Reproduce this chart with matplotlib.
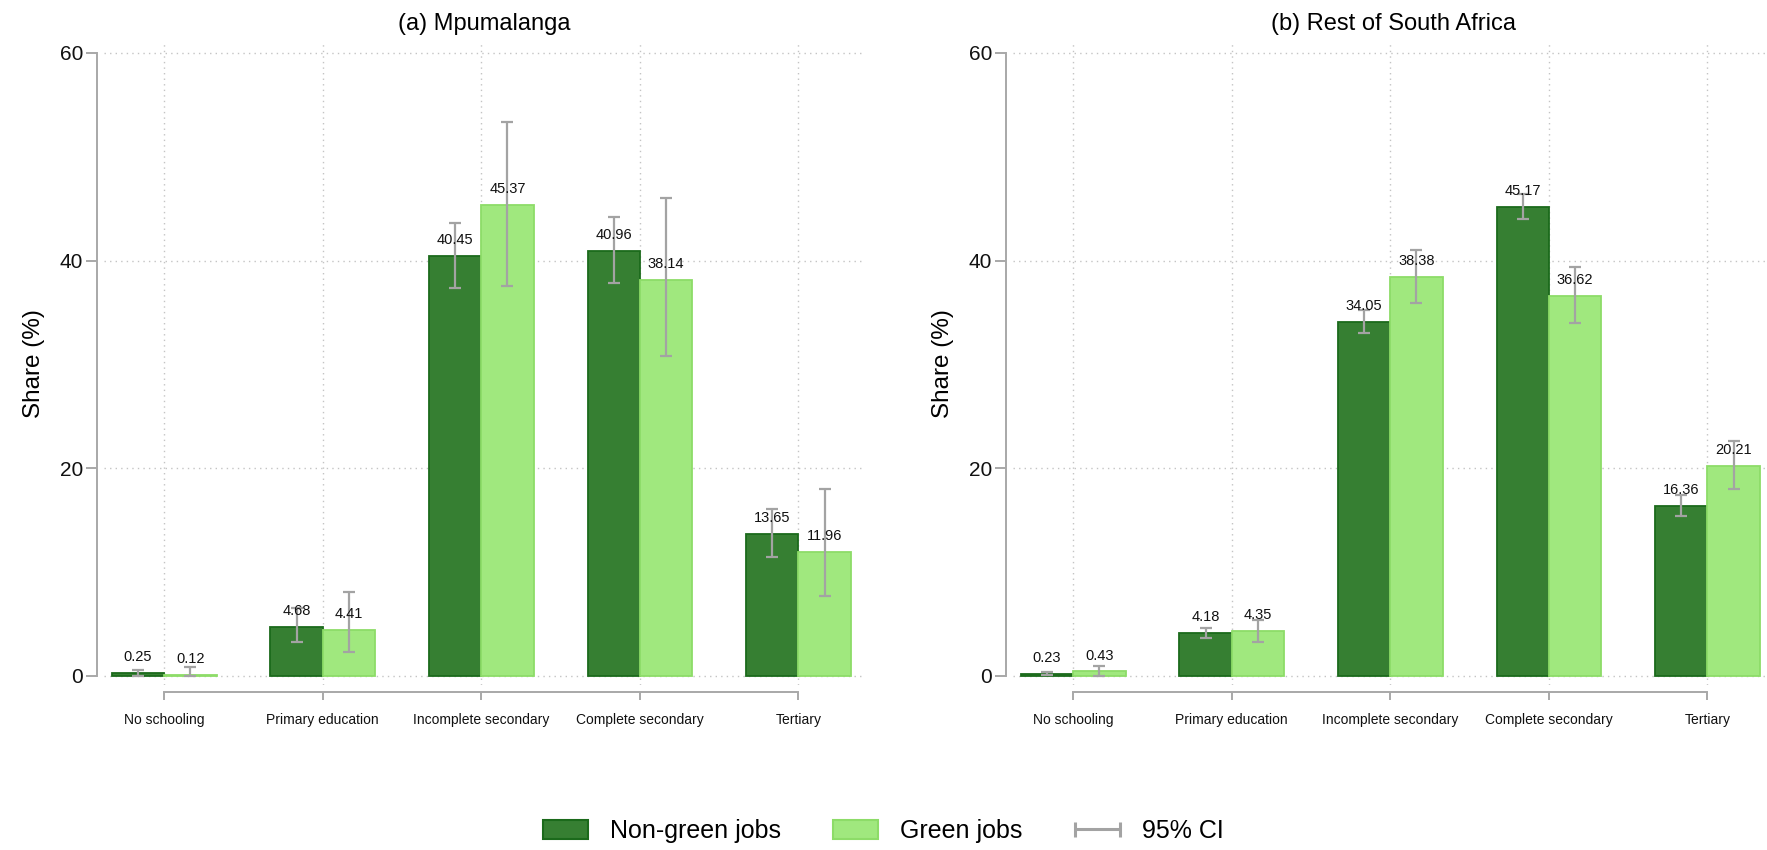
import matplotlib
matplotlib.use("Agg")
import matplotlib.pyplot as plt
import numpy as np
from matplotlib.lines import Line2D
from matplotlib.patches import Patch
from matplotlib.legend_handler import HandlerBase

plt.rcParams["font.family"] = ["Liberation Sans", "DejaVu Sans"]

categories = ["No schooling", "Primary education", "Incomplete secondary",
              "Complete secondary", "Tertiary"]

# Mpumalanga
mp_nongreen = [0.25, 4.68, 40.45, 40.96, 13.65]
mp_nongreen_lo = [0.0, 3.3, 37.4, 37.8, 11.5]
mp_nongreen_hi = [0.58, 6.5, 43.6, 44.2, 16.1]
mp_green = [0.12, 4.41, 45.37, 38.14, 11.96]
mp_green_lo = [0.0, 2.3, 37.6, 30.8, 7.7]
mp_green_hi = [0.9, 8.1, 53.4, 46.0, 18.0]

# Rest of South Africa
rsa_nongreen = [0.23, 4.18, 34.05, 45.17, 16.36]
rsa_nongreen_lo = [0.1, 3.7, 33.0, 44.0, 15.4]
rsa_nongreen_hi = [0.37, 4.6, 35.2, 46.4, 17.4]
rsa_green = [0.43, 4.35, 38.38, 36.62, 20.21]
rsa_green_lo = [0.0, 3.3, 35.9, 34.0, 18.0]
rsa_green_hi = [0.93, 5.4, 41.0, 39.4, 22.6]

panel_titles = ["(a) Mpumalanga", "(b) Rest of South Africa"]
y_ticks = [0, 20, 40, 60]

DARK = "#367f32"
DARK_EDGE = "#1b6a1b"
LIGHT = "#a0e87e"
LIGHT_EDGE = "#8ddc68"
CI_COLOR = "#a3a3a3"
AXIS_COLOR = "#a8a8a8"
GRID_COLOR = "#c4c4c4"

W, H = 1767, 850
fig = plt.figure(figsize=(W / 100, H / 100), dpi=100)

ax_w = 761 / W
ax_b = (H - 685.3) / H
ax_h = 642.7 / H
axes = [fig.add_axes([104 / W, ax_b, ax_w, ax_h]),
        fig.add_axes([1013 / W, ax_b, ax_w, ax_h])]

panels = [
    (mp_nongreen, mp_nongreen_lo, mp_nongreen_hi, mp_green, mp_green_lo, mp_green_hi),
    (rsa_nongreen, rsa_nongreen_lo, rsa_nongreen_hi, rsa_green, rsa_green_lo, rsa_green_hi),
]

x = np.arange(len(categories))
bw = 0.33

for ax, title, (ng, ng_lo, ng_hi, g, g_lo, g_hi) in zip(axes, panel_titles, panels):
    for offs, vals, lo, hi, fc, ec in [(-bw / 2, ng, ng_lo, ng_hi, DARK, DARK_EDGE),
                                       (bw / 2, g, g_lo, g_hi, LIGHT, LIGHT_EDGE)]:
        vals = np.array(vals)
        xs = x + offs
        ax.bar(xs, vals, width=bw, color=fc, edgecolor=ec, linewidth=1.3, zorder=2)
        yerr = np.vstack([vals - np.array(lo), np.array(hi) - vals])
        ax.errorbar(xs, vals, yerr=yerr, fmt="none", ecolor=CI_COLOR, elinewidth=1.6,
                    capsize=4, capthick=1.6, zorder=3)
        for xi, v in zip(xs, vals):
            ax.annotate(f"{v:.2f}", (xi, v), xytext=(0, 11.5), textcoords="offset points",
                        ha="center", va="center", fontsize=10.5, color="#111111", zorder=4)

    ax.set_xlim(-0.38, 4.42)
    ax.set_ylim(-0.9, 61.0)
    ax.set_xticks(x)
    ax.set_xticklabels(categories)
    ax.set_yticks(y_ticks)
    ax.set_yticklabels([str(t) for t in y_ticks])

    for side in ("top", "right"):
        ax.spines[side].set_visible(False)
    ax.spines["left"].set_position(("outward", 5))
    ax.spines["bottom"].set_position(("outward", 5))
    ax.spines["left"].set_bounds(0, 60)
    ax.spines["bottom"].set_bounds(0, 4)
    for side in ("left", "bottom"):
        ax.spines[side].set_color(AXIS_COLOR)
        ax.spines[side].set_linewidth(1.4)
    ax.tick_params(axis="y", length=8, width=1.4, color=AXIS_COLOR, pad=2,
                   labelsize=15, labelcolor="#111111")
    ax.tick_params(axis="x", length=6, width=1.4, color=AXIS_COLOR, pad=9,
                   labelsize=10, labelcolor="#111111")

    ax.grid(True, color=GRID_COLOR, linestyle=(0, (1, 3)), linewidth=1.0, zorder=0)
    ax.set_axisbelow(True)

    ax.set_title(title, fontsize=17, pad=9)
    ax.set_ylabel("Share (%)", fontsize=17.5)
    ax.yaxis.label.set_va("center")
    ax.yaxis.set_label_coords(-0.092, 0.5)


class HandlerCI(HandlerBase):
    def create_artists(self, legend, orig_handle, xdescent, ydescent, width, height,
                       fontsize, trans):
        y = height / 2 - ydescent
        x0, x1 = -xdescent, -xdescent + width
        cap = height * 0.42
        kw = dict(color=CI_COLOR, linewidth=2.2, solid_capstyle="butt")
        arts = [Line2D([x0, x1], [y, y], **kw),
                Line2D([x0, x0], [y - cap, y + cap], **kw),
                Line2D([x1, x1], [y - cap, y + cap], **kw)]
        for a in arts:
            a.set_transform(trans)
        return arts


ci_handle = Line2D([], [], color=CI_COLOR)
handles = [Patch(facecolor=DARK, edgecolor=DARK_EDGE, linewidth=1.5),
           Patch(facecolor=LIGHT, edgecolor=LIGHT_EDGE, linewidth=1.5),
           ci_handle]
fig.legend(handles, ["Non-green jobs", "Green jobs", "95% CI"],
           loc="center", bbox_to_anchor=(0.5, (H - 831) / H), ncol=3, frameon=False,
           fontsize=18, handlelength=1.8, handleheight=0.76, handletextpad=0.88,
           columnspacing=2.1, handler_map={ci_handle: HandlerCI()})

fig.savefig("out.png", dpi=100)
